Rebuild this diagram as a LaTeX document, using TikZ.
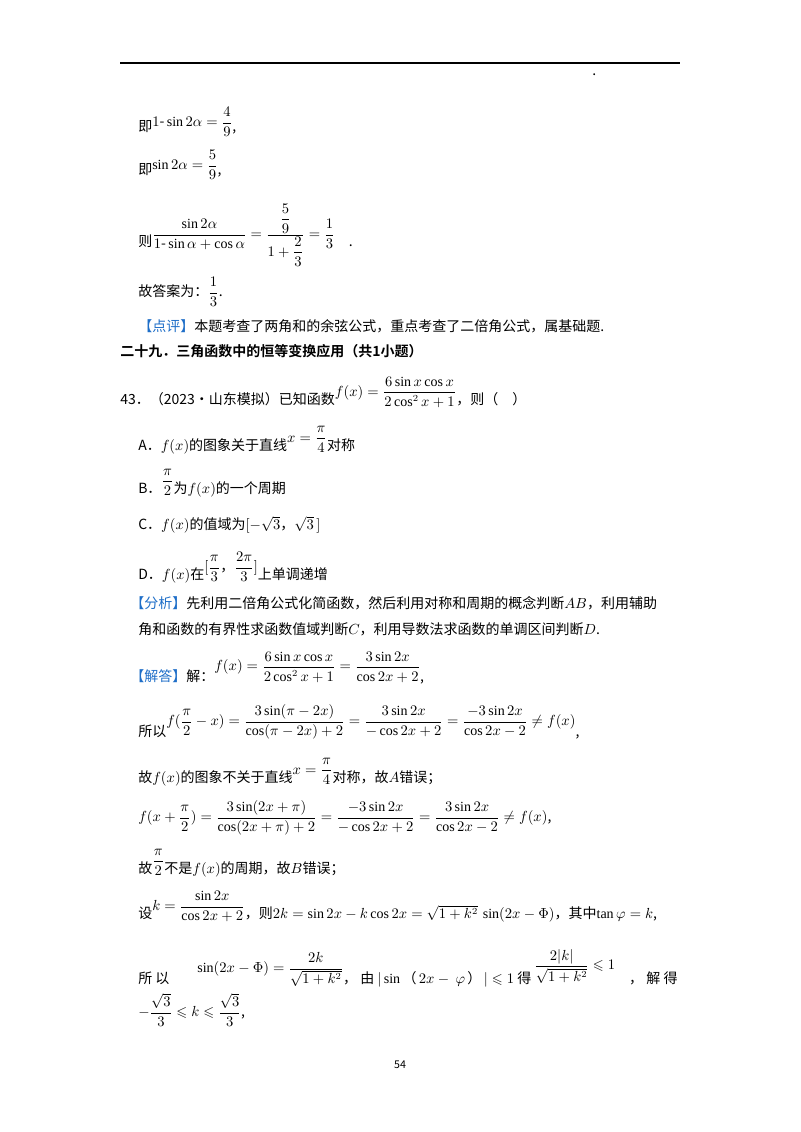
\documentclass[tikz,border=0pt]{standalone}
\usepackage{amsmath,amssymb}
\usepackage{fontspec}
\setmainfont{Liberation Serif}
\newfontfamily\cjk{Noto Sans CJK SC}
\newfontfamily\cjkb{Noto Sans CJK SC Bold}
\newcommand{\zc}{\text{\cjk ，}}
\definecolor{lblue}{RGB}{30,110,200}
\begin{document}
\begin{tikzpicture}[x=0.75pt,y=-0.75pt,
  t/.style={anchor=west,inner sep=0pt,font=\fontsize{10.5}{12}\selectfont\cjk}]
\useasboundingbox (0,0) rectangle (800,1132);
\fill[white] (0,0) rectangle (800,1132);
\coordinate (r1) at (120,63); \coordinate (r2) at (680,63);
\draw[line width=0.8pt] (r1) -- (r2);
\node[t] (dot) at (592,75) {.};
\node[t] (l1) at (138,122) {即\raisebox{4pt}{$1\text{-}\sin2\alpha=\dfrac{4}{9}$},};
\node[t] (l2) at (138,165) {即\raisebox{4pt}{$\sin2\alpha=\dfrac{5}{9}$},};
\node[t] (l3) at (138,235) {则\raisebox{6pt}{$\dfrac{\sin2\alpha}{1\text{-}\sin\alpha+\cos\alpha}=\dfrac{\;\dfrac{5}{9}\;}{1+\dfrac{2}{3}}=\dfrac{1}{3}$}\quad.};
\node[t] (l4) at (138,292) {故答案为：$\dfrac{1}{3}$.};
\node[t] (l5) at (138,326) {\textcolor{lblue}{【点评】}本题考查了两角和的余弦公式，重点考查了二倍角公式，属基础题.};
\node[t,font=\fontsize{10.5}{12}\selectfont\cjkb] (h) at (120,351) {二十九．三角函数中的恒等变换应用（共1小题）};
\node[t] (q) at (120,392) {43．（2023•山东模拟）已知函数\raisebox{6pt}{$f(x)=\dfrac{6\sin x\cos x}{2\cos^2x+1}$}，则（\quad ）};
\node[t] (A) at (138,440) {A．$f(x)$的图象关于直线\raisebox{6pt}{$x=\dfrac{\pi}{4}$}对称};
\node[t] (B) at (138,483) {B．\raisebox{6pt}{$\dfrac{\pi}{2}$}为$f(x)$的一个周期};
\node[t] (C) at (138,525) {C．$f(x)$的值域为$[-\sqrt3\zc\sqrt3\,]$};
\node[t] (D) at (138,568) {D．$f(x)$在\raisebox{6pt}{$[\dfrac{\pi}{3}\zc\dfrac{2\pi}{3}]$}上单调递增};
\node[t] (F1) at (130,603) {\textcolor{lblue}{【分析】}先利用二倍角公式化简函数，然后利用对称和周期的概念判断$AB$，利用辅助};
\node[t] (F2) at (138,629) {角和函数的有界性求函数值域判断$C$，利用导数法求函数的单调区间判断$D$.};
\node[t] (S1) at (130,668) {\textcolor{lblue}{【解答】}解：\raisebox{8pt}{$f(x)=\dfrac{6\sin x\cos x}{2\cos^2x+1}=\dfrac{3\sin2x}{\cos2x+2}$},};
\node[t] (S2) at (138,722) {所以\raisebox{8pt}{$f(\dfrac{\pi}{2}-x)=\dfrac{3\sin(\pi-2x)}{\cos(\pi-2x)+2}=\dfrac{3\sin2x}{-\cos2x+2}=\dfrac{-3\sin2x}{\cos2x-2}\neq f(x)$},};
\node[t] (S3) at (138,772) {故$f(x)$的图象不关于直线\raisebox{6pt}{$x=\dfrac{\pi}{4}$}对称，故$A$错误；};
\node[t] (S4) at (138,818) {$f(x+\dfrac{\pi}{2})=\dfrac{3\sin(2x+\pi)}{\cos(2x+\pi)+2}=\dfrac{-3\sin2x}{-\cos2x+2}=\dfrac{3\sin2x}{\cos2x-2}\neq f(x)$,};
\node[t] (S5) at (138,863) {故\raisebox{6pt}{$\dfrac{\pi}{2}$}不是$f(x)$的周期，故$B$错误；};
\node[t] (S6) at (138,907) {设\raisebox{6pt}{$k=\dfrac{\sin2x}{\cos2x+2}$}，则$2k=\sin2x-k\cos2x=\sqrt{1+k^2}\,\sin(2x-\Phi)$，其中$\tan\varphi=k$,};
\node[t] (S7) at (138,968) {所\ 以\qquad\raisebox{8pt}{$\sin(2x-\Phi)=\dfrac{2k}{\sqrt{1+k^2}}$}，\ 由\ $|\sin$\,（\,$2x-\ \varphi$\,）\,$|\leqslant 1$\ 得\ \raisebox{10pt}{$\dfrac{2|k|}{\sqrt{1+k^2}}\leqslant1$}\quad，\ 解\ 得};
\node[t] (S8) at (138,1010) {$-\dfrac{\sqrt3}{3}\leqslant k\leqslant\dfrac{\sqrt3}{3}$,};
\node[t,anchor=center,font=\fontsize{8}{10}\selectfont\cjk] (pg) at (400,1065) {54};
\end{tikzpicture}
\end{document}
